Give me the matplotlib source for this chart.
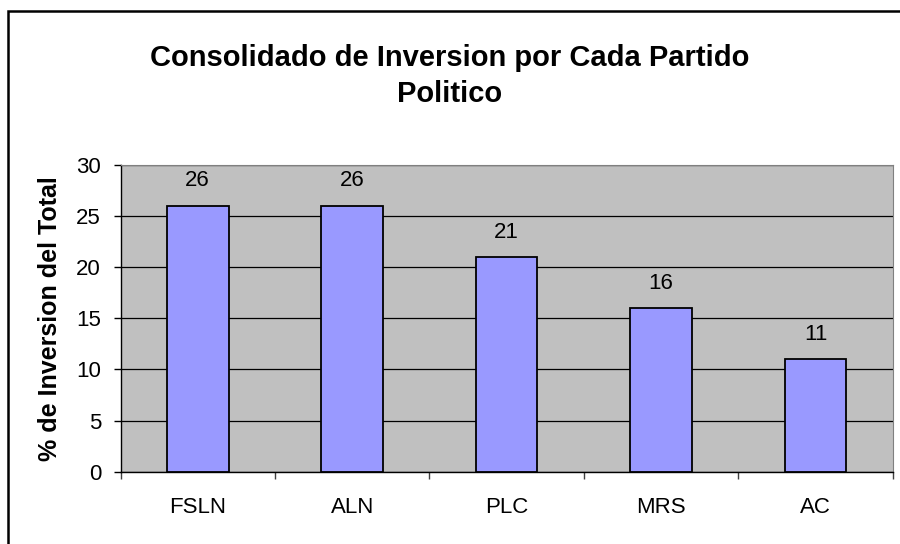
import matplotlib
matplotlib.use("Agg")
import matplotlib.pyplot as plt
from matplotlib.patches import Rectangle
import numpy as np

categories = ["FSLN", "ALN", "PLC", "MRS", "AC"]
values = [26, 26, 21, 16, 11]
yticks = [0, 5, 10, 15, 20, 25, 30]

plt.rcParams['font.family'] = ['Liberation Sans', 'DejaVu Sans']

fig = plt.figure(figsize=(9, 5.44), dpi=100)
fig.patches.append(Rectangle((8/900, -0.1), 1.2, 1 - 11/544 + 0.1, transform=fig.transFigure,
                             fill=False, edgecolor='black', linewidth=1.8, zorder=0))

ax = fig.add_axes([120.5/900, 1 - 471.7/544, (892.7 - 120.5)/900, (471.7 - 165)/544])
ax.set_facecolor('#C0C0C0')
x = np.arange(len(categories))
ax.bar(x, values, width=0.4, color='#9999FF', edgecolor='black', linewidth=1.3, zorder=3)
ax.set_xlim(-0.5, len(categories) - 0.5)
ax.set_ylim(0, 30)
ax.set_yticks(yticks)
ax.tick_params(axis='y', labelsize=16, length=5, width=1, direction='out', pad=9)
ax.yaxis.grid(True, color='black', linewidth=0.9, zorder=1)
ax.set_axisbelow(True)

ax.set_xticks(x)
ax.set_xticklabels(categories)
ax.tick_params(axis='x', which='major', length=0, labelsize=16, pad=18)
ax.set_xticks(np.arange(len(categories) + 1) - 0.5, minor=True)
ax.tick_params(axis='x', which='minor', length=5, width=1, color='#404040', direction='out')

for s in ['top', 'right']:
    ax.spines[s].set_color('#808080')
for s in ['left', 'bottom']:
    ax.spines[s].set_color('black')
    ax.spines[s].set_linewidth(1)

for xi, v in zip(x, values):
    ax.annotate(str(v), (xi, v), xytext=(0, 18), textcoords='offset points',
                ha='center', va='center', fontsize=16)

ax.set_ylabel('% de Inversion del Total', fontsize=18, fontweight='bold', labelpad=10)

fig.text(0.5, 1 - 76/544, 'Consolidado de Inversion por Cada Partido\nPolitico',
         ha='center', va='center', fontsize=21, fontweight='bold', linespacing=1.32)

fig.savefig('out.png', dpi=100)
